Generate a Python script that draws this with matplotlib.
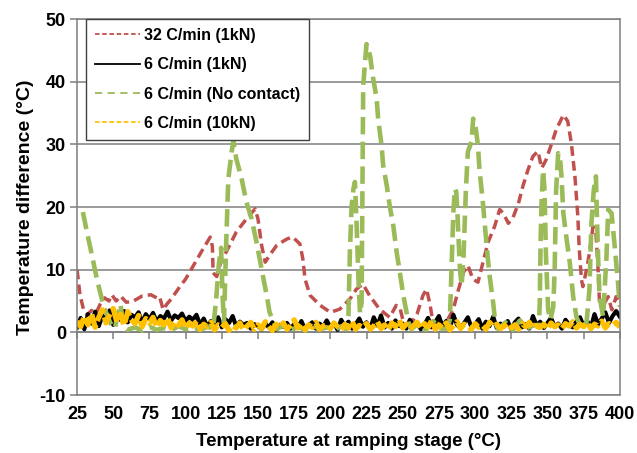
import numpy as np
import matplotlib
matplotlib.use("Agg")
import matplotlib.pyplot as plt
from matplotlib.lines import Line2D

plt.rcParams['font.family'] = ['Liberation Sans', 'DejaVu Sans']
plt.rcParams['axes.unicode_minus'] = False

# 32 C/min (1kN)
red_x = [25, 27, 29.5, 32, 35, 38, 41, 44, 47, 49, 52, 55, 59, 64, 70, 76, 80, 82,
         84.5, 87, 90, 96, 100, 105, 112, 117, 118.5, 119, 121.5, 125, 128, 135, 142,
         148, 150, 152.5, 155, 158, 163, 170, 174, 179, 181, 182.5, 186, 193, 200,
         206.5, 213.5, 218, 222.5, 227, 234, 241, 245.5, 248, 250, 256, 260, 264,
         266.5, 269, 270.5, 276, 281, 285, 288, 292, 295, 298.5, 302, 305.5, 309,
         313.5, 317, 319.5, 323, 326, 330, 333, 336.5, 340, 343.5, 346, 349, 353,
         356, 361, 364, 366.5, 369, 371, 372, 373.5, 374.5, 377, 379, 381.5, 383.5,
         385, 386, 389.5, 392, 394.5, 397.5, 400]
red_y = [10, 6, 3.6, 2.8, 3.5, 3.0, 4.5, 5.5, 5.0, 6.0, 5.0, 5.8, 4.8, 5.0, 5.8, 6.0,
         5.5, 5.7, 3.6, 4.5, 5.3, 7.3, 8.5, 10.5, 13.3, 15.2, 13.7, 9.5, 8.9, 11.8,
         12.8, 16, 18.1, 19.7, 18.1, 13.9, 11.2, 12.3, 13.9, 14.9, 15.2, 14.1, 11.7,
         8.5, 5.9, 4.3, 3.2, 3.7, 5.3, 6.9, 7.7, 5.9, 3.7, 2.4, 4.3, 4.0, 2.1, 1.5,
         3.0, 5.9, 6.9, 4.3, 2.1, 1.5, 2.0, 3.7, 6.4, 9.6, 10.7, 8.5, 8.0, 11.2, 14.4,
         16.9, 19.6, 19.0, 17.4, 18.2, 20.6, 23.3, 25.9, 28.1, 28.9, 26.2, 27.5, 30.2,
         32.3, 34.7, 33.7, 30.2, 24.9, 18.5, 13.2, 8.4, 7.3, 10, 12.6, 16.9, 15.9,
         10, 4.6, 4.7, 5.7, 3.6, 5.7, 4.7]

# 6 C/min (No contact)
green_x = [29, 32, 35, 38.8, 43.4, 48, 51, 53, 55, 57, 60, 65, 70, 75, 80, 85, 90,
           95, 100, 105, 110, 115, 119, 121, 123, 124.5, 125.5, 126.5, 128, 129.5,
           131.8, 133, 135, 138.7, 142, 145.6, 149, 152.5, 156, 158, 160.6, 163, 168,
           173, 178, 183, 188, 193, 198, 203, 208, 211, 212.5, 213.5, 214.7, 216, 217,
           218, 219.5, 220.5, 221.6, 222.7, 224, 225, 227.4, 229.6, 232, 233, 235.4,
           236.5, 239, 241, 243.5, 245.8, 248, 250.4, 252.7, 254, 256, 261, 266, 271,
           276, 281, 282.6, 284, 285, 286, 287, 288, 289.5, 290.7, 292, 293.6, 295,
           297.5, 298.7, 300.5, 302, 303, 305.6, 308, 310, 312.5, 314, 316, 321, 326,
           331, 336, 341, 344, 344.7, 345.3, 346, 347, 348, 349, 350.5, 352, 354, 355,
           356, 357.4, 358.6, 359.7, 361, 363, 365.5, 367.8, 370, 373, 377, 379, 380.4,
           382, 383.5, 384, 385, 386, 388.5, 390.8, 392, 394.3, 396.5, 398.8, 400]
green_y = [19.2, 15.8, 12.6, 8.4, 4.1, 1.5, 0.6, 2.5, 4.5, 1.0, 0.4, 0.8, 0.3, 0.9,
           0.4, 0.7, 0.3, 1.0, 0.5, 0.8, 0.4, 0.9, 0.6, 5, 11, 13.5, 6, 1.5, 14, 24.5,
           28.8, 30.5, 27.7, 24.5, 20.8, 18.1, 14.4, 10.1, 5.9, 3.2, 1.7, 0.5, 1.2,
           0.4, 0.9, 0.3, 1.1, 0.5, 0.8, 0.4, 1.0, 0.5, 2.7, 12.8, 20.2, 23, 24, 18.1,
           8, 3, 4.8, 39.4, 43.1, 46, 44.2, 40.5, 37.3, 34.1, 29.8, 26.6, 23.4, 20.2,
           17, 12.8, 9.6, 5.9, 3.2, 1.6, 0.5, 1.5, 0.4, 1.8, 0.6, 0.6, 2.1, 12, 19.2,
           22.9, 22.4, 18.1, 10.1, 7.5, 12, 22.4, 28.8, 30.4, 34.1, 32.5, 29.8, 26.1,
           20.2, 13.8, 9.1, 4.7, 1.5, 0.5, 1.6, 0.4, 1.9, 0.6, 1.2, 0.8, 4.6, 14.8,
           21.1, 25.9, 22.7, 12, 3.6, 2, 4, 10, 22.7, 28.6, 28.1, 24.9, 19, 15.3, 11,
           5.7, 2.5, 0.8, 1.5, 6.8, 17.4, 22.7, 24.9, 20.1, 12.1, 5.7, 2.5, 12.1, 19.6,
           19, 13.7, 7.8, 4.1]

# 6 C/min (1kN) and 6 C/min (10kN), logged every 2.5 C
low_x = np.arange(25, 400.1, 2.5)
black_y = [0.8, 2.3, 0.5, 2.9, 1.4, 3.3, 1.0, 2.7, 1.8, 3.5,
           1.2, 3.0, 2.0, 3.4, 1.6, 2.8, 2.4, 3.2, 1.5, 2.9,
           2.1, 3.1, 1.7, 2.6, 2.2, 3.3, 1.9, 2.7, 2.3, 3.0,
           1.8, 2.5, 2.0, 2.8, 1.2, 2.2, 0.9, 1.8, 1.3, 2.4,
           0.8, 2.1, 1.5, 2.6, 0.9, 1.7, 1.2, 1.5, 0.6, 1.3,
           1.0, 0.5, 1.4, 0.8, 1.6, 0.4, 1.2, 0.9, 1.5, 0.6,
           1.3, 0.7, 1.8, 0.5, 1.1, 1.6, 0.6, 1.4, 0.9, 1.9,
           0.8, 1.5, 0.4, 2.0, 1.0, 1.7, 0.6, 1.3, 2.2, 0.9,
           1.6, 0.5, 2.4, 1.1, 2.7, 0.8, 1.5, 0.6, 1.9, 1.0,
           1.4, 0.6, 2.0, 0.9, 1.5, 0.5, 1.2, 2.3, 0.8, 1.6,
           2.6, 0.9, 1.8, 0.5, 2.8, 1.2, 0.7, 1.5, 2.4, 0.8,
           1.3, 2.1, 0.6, 1.7, 1.0, 2.5, 0.7, 1.4, 0.9, 1.8,
           0.5, 1.6, 2.2, 0.8, 1.3, 0.6, 2.6, 1.1, 1.7, 0.7,
           1.5, 2.3, 0.9, 1.4, 0.6, 2.0, 1.2, 0.8, 1.7, 2.4,
           1.0, 1.8, 0.7, 2.9, 1.3, 2.2, 3.2, 1.5, 2.6, 3.4,
           2.5]
orange_y = [1.8, 0.9, 2.6, 1.2, 3.0, 0.8, 2.4, 3.6, 1.5, 2.8,
            3.8, 1.6, 2.9, 1.1, 3.3, 2.0, 1.4, 2.7, 0.9, 2.2,
            1.5, 2.4, 0.8, 1.9, 1.2, 2.3, 0.7, 1.7, 1.1, 2.0,
            0.6, 1.5, 1.0, 1.8, 0.5, 1.3, 0.9, 1.6, 0.4, 1.2,
            0.8, 1.4, 0.3, 1.1, 0.7, 1.5, 0.4, 1.0, 1.6, 0.5,
            1.2, 0.6, 1.7, 0.9, 0.3, 1.3, 0.8, 1.5, 0.5, 1.1,
            2.0, 0.7, 1.4, 0.4, 1.2, 0.8, 1.6, 0.5, 1.0, 1.3,
            0.6, 1.5, 0.9, 0.4, 1.3, 0.7, 1.8, 0.5, 1.1, 0.8,
            1.4, 0.5, 1.0, 1.7, 0.6, 1.2, 0.4, 1.5, 0.9, 2.0,
            0.7, 1.3, 0.5, 1.1, 1.6, 0.6, 1.4, 0.8, 1.9, 0.5,
            1.2, 0.7, 1.5, 0.4, 1.0, 1.7, 0.6, 1.3, 0.9, 0.5,
            1.4, 0.8, 1.1, 0.5, 1.6, 0.9, 1.3, 0.6, 1.0, 1.5,
            0.7, 1.2, 0.5, 1.4, 0.9, 1.6, 0.6, 1.1, 0.8, 1.3,
            0.5, 1.5, 0.9, 1.2, 0.6, 1.4, 1.0, 1.7, 0.7, 1.3,
            0.9, 1.6, 0.6, 1.3, 1.0, 1.8, 0.7, 1.4, 1.1, 1.6,
            0.8]

labels = ['32 C/min (1kN)', '6 C/min (1kN)', '6 C/min (No contact)', '6 C/min (10kN)']
xticks = list(range(25, 401, 25))
yticks = list(range(-10, 51, 10))

RED = '#C0504D'
GREEN = '#9BBB59'
ORANGE = '#FFC000'
GRAY = '#7f7f7f'

fig = plt.figure(figsize=(6.37, 4.53), dpi=100)
ax = fig.add_axes([0.121, 0.128, 0.852, 0.830])

ax.plot(red_x, red_y, color=RED, lw=2.5, ls=(0, (2.8, 1.5)))
ax.plot(low_x, black_y, color='black', lw=3.0)
ax.plot(green_x, green_y, color=GREEN, lw=3.3, ls=(0, (3.8, 1.6)))
ax.plot(low_x, orange_y, color=ORANGE, lw=3.8, ls=(0, (3, 0.8)))

ax.set_xlim(xticks[0], xticks[-1])
ax.set_ylim(yticks[0], yticks[-1])
ax.set_yticks(yticks)
ax.set_xticks(xticks)
ax.yaxis.grid(True, color=GRAY, lw=1.1)
ax.set_axisbelow(True)
for s in ax.spines.values():
    s.set_color(GRAY)
    s.set_linewidth(1.1)

ax.tick_params(axis='y', direction='out', length=5, color=GRAY, width=1.1, pad=3)
ax.tick_params(axis='x', length=0, pad=8)
for lab in ax.get_xticklabels() + ax.get_yticklabels():
    lab.set_fontweight('bold')
    lab.set_fontsize(13)

# horizontal axis line crosses at zero, labels stay at the bottom
zero_pos = (0 - yticks[0]) / (yticks[-1] - yticks[0])
sec = ax.secondary_xaxis(zero_pos)
sec.set_xticks(xticks)
sec.tick_params(direction='out', length=5, color=GRAY, width=1.1, labelbottom=False)
sec.spines['bottom'].set_color(GRAY)
sec.spines['bottom'].set_linewidth(1.1)

ax.set_xlabel('Temperature at ramping stage (\u00b0C)', fontsize=13.5, fontweight='bold', labelpad=7)
ax.set_ylabel('Temperature difference (\u00b0C)', fontsize=14, fontweight='bold', labelpad=4)

handles = [
    Line2D([], [], color=RED, lw=1.3, ls=(0, (2.5, 1.5))),
    Line2D([], [], color='black', lw=1.3),
    Line2D([], [], color=GREEN, lw=1.3, ls=(0, (4, 3))),
    Line2D([], [], color=ORANGE, lw=1.3, ls=(0, (2.5, 1.5))),
]
leg = ax.legend(handles, labels, loc='upper left', bbox_to_anchor=(0.0166, 1.0),
                borderaxespad=0, frameon=True, fancybox=False, framealpha=1,
                edgecolor='#404040', handlelength=2.8, handletextpad=0.3,
                labelspacing=0.9, borderpad=0.55,
                prop={'weight': 'bold', 'size': 11.5})
leg.get_frame().set_linewidth(1.0)

fig.savefig('out.png', dpi=100)
